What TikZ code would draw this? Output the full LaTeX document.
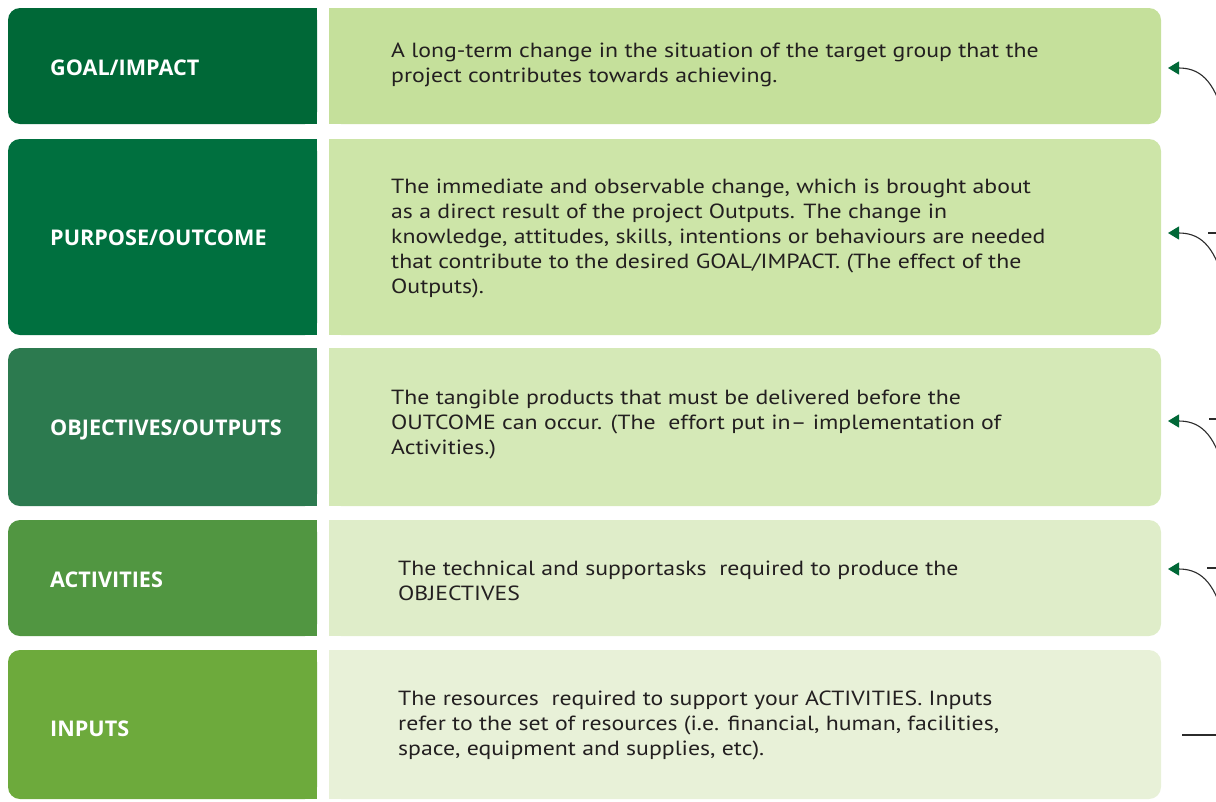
\documentclass[tikz,border=0pt]{standalone}
\usepackage{fontspec}
\setmainfont[FakeStretch=1.16]{PT Sans}
\newfontfamily\lblfont{Open Sans}
\usetikzlibrary{arrows.meta}
\definecolor{lg1}{HTML}{006837}
\definecolor{lg2}{HTML}{00703F}
\definecolor{lg3}{HTML}{2C7A4F}
\definecolor{lg4}{HTML}{519641}
\definecolor{lg5}{HTML}{6DAA3C}
\definecolor{rg1}{HTML}{C5E09B}
\definecolor{rg2}{HTML}{CDE5A8}
\definecolor{rg3}{HTML}{D5E9B7}
\definecolor{rg4}{HTML}{DFEDC9}
\definecolor{rg5}{HTML}{E8F1D8}
\definecolor{txtgray}{HTML}{231F20}
\definecolor{linegray}{HTML}{2B2B2B}

\begin{document}
\begin{tikzpicture}[
  x=1pt, y=-1pt,
  lbox/.style={rectangle, rounded corners=12pt, minimum width=309pt, inner sep=0pt},
  rbox/.style={rectangle, rounded corners=12pt, minimum width=832pt, inner sep=0pt},
  lbl/.style={anchor=base west, inner sep=0pt, text=white,
              font=\lblfont\bfseries\fontsize{21.6}{26}\selectfont},
  desc/.style={anchor=west, align=left, inner sep=0pt, text=txtgray,
               font=\fontsize{20.5}{25}\selectfont},
  link/.style={draw=linegray, line width=1.1pt,
               -{Triangle[length=11pt,width=13pt,color=lg1]}},
  tick/.style={draw=linegray, line width=1.1pt},
]
\useasboundingbox (0,0) rectangle (1216,801);
\clip (0,0) rectangle (1216,801);

% ---------- level boxes ----------
\node[lbox, fill=lg1, minimum height=116pt] (goal) at (162.5,66) {};
\node[lbox, fill=lg2, minimum height=196pt] (purp) at (162.5,237) {};
\node[lbox, fill=lg3, minimum height=158pt] (obj)  at (162.5,427) {};
\node[lbox, fill=lg4, minimum height=116pt] (act)  at (162.5,578) {};
\node[lbox, fill=lg5, minimum height=149pt] (inp)  at (162.5,724.5) {};

\node[rbox, fill=rg1, minimum height=116pt] (goal-d) at (745,66) {};
\node[rbox, fill=rg2, minimum height=196pt] (purp-d) at (745,237) {};
\node[rbox, fill=rg3, minimum height=158pt] (obj-d)  at (745,427) {};
\node[rbox, fill=rg4, minimum height=116pt] (act-d)  at (745,578) {};
\node[rbox, fill=rg5, minimum height=149pt] (inp-d)  at (745,724.5) {};

% square off the inner corners
\foreach \n/\c in {goal/lg1, purp/lg2, obj/lg3, act/lg4, inp/lg5}
  \fill[\c] (\n.north) rectangle (\n.south east);
\foreach \n/\c in {goal/rg1, purp/rg2, obj/rg3, act/rg4, inp/rg5}
  \fill[\c] (\n-d.north west) rectangle (\n-d.south);

% ---------- labels ----------
\node[lbl] (goal-l) at (50,75)  {GOAL/IMPACT};
\node[lbl] (purp-l) at (50,245) {PURPOSE/OUTCOME};
\node[lbl] (obj-l)  at (50,435) {OBJECTIVES/OUTPUTS};
\node[lbl] (act-l)  at (50,587) {ACTIVITIES};
\node[lbl] (inp-l)  at (50,736) {INPUTS};

% ---------- descriptions ----------
\node[desc] (goal-t) at (391,65) {A long-term change in the situation of the target group that the\\
  project contributes towards achieving.};
\node[desc] (purp-t) at (391,238.5) {The immediate and observable change, which is brought about\\
  as a direct result of the project Outputs. The change in\\
  knowledge, attitudes, skills, intentions or behaviours are needed\\
  that contribute to the desired GOAL/IMPACT. (The effect of the\\
  Outputs).};
\node[desc] (obj-t) at (391,424.5) {The tangible products that must be delivered before the\\
  OUTCOME can occur. (The\ \ effort put in-- implementation of\\
  Activities.)};
\node[desc] (act-t) at (398,581) {The technical and supportasks\ \ required to produce the\\
  OBJECTIVES};
\node[desc] (inp-t) at (398,725.5) {The resources\ \ required to support your ACTIVITIES. Inputs\\
  refer to the set of resources (i.e. financial, human, facilities,\\
  space, equipment and supplies, etc).};

% ---------- links coming in from the right ----------
\coordinate (goal-tip) at (1168,68);
\coordinate (purp-tip) at (1168,233);
\coordinate (obj-tip)  at (1168,421);
\coordinate (act-tip)  at (1168,569);
\coordinate (goal-src) at (1224,118);
\coordinate (purp-src) at (1224,283);
\coordinate (obj-src)  at (1224,471);
\coordinate (act-src)  at (1224,619);
\draw[link] (goal-src) .. controls (1214,78) and (1198,68) .. (goal-tip);
\draw[link] (purp-src) .. controls (1214,243) and (1198,233) .. (purp-tip);
\draw[link] (obj-src)  .. controls (1214,431) and (1198,421) .. (obj-tip);
\draw[link] (act-src)  .. controls (1214,579) and (1198,569) .. (act-tip);

\coordinate (purp-a) at (1208,233);  \coordinate (purp-b) at (1230,233);
\coordinate (obj-a)  at (1209,419);  \coordinate (obj-b)  at (1230,419);
\coordinate (act-a)  at (1207,568);  \coordinate (act-b)  at (1230,568);
\coordinate (inp-a)  at (1182,735);  \coordinate (inp-b)  at (1230,735);
\draw[tick] (purp-a) -- (purp-b);
\draw[tick] (obj-a) -- (obj-b);
\draw[tick] (act-a) -- (act-b);
\draw[tick] (inp-a) -- (inp-b);
\end{tikzpicture}
\end{document}
